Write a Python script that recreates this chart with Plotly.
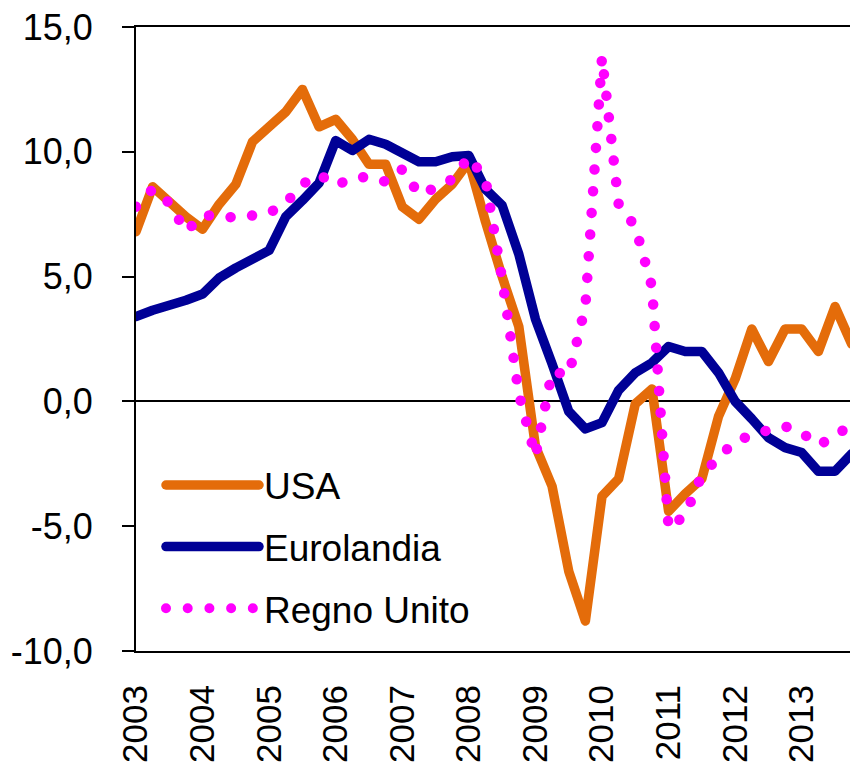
import plotly.graph_objects as go

# --- data ---
years = ["2003", "2004", "2005", "2006", "2007", "2008",
         "2009", "2010", "2011", "2012", "2013"]
quarters = [f"{y}-T{q}" for y in years for q in (1, 2, 3, 4)]

usa = [6.8, 8.6, 8.0, 7.4, 6.9, 7.9, 8.7, 10.4, 11.0, 11.6, 12.5, 11.0,
       11.3, 10.5, 9.5, 9.5, 7.8, 7.3, 8.1, 8.7, 9.6, 7.2, 5.0, 3.0,
       -1.8, -3.4, -6.8, -8.8, -3.8, -3.1, -0.1, 0.5, -4.4, -3.7, -3.1, -0.6,
       0.9, 2.9, 1.6, 2.9, 2.9, 2.0, 3.8, 2.3]

eurolandia = [3.4, 3.65, 3.85, 4.05, 4.3, 4.95, 5.35, 5.7, 6.05, 7.4, 8.05, 8.75,
              10.45, 10.05, 10.5, 10.3, 9.95, 9.6, 9.6, 9.8, 9.85, 8.5, 7.85, 5.9,
              3.3, 1.5, -0.4, -1.1, -0.85, 0.45, 1.15, 1.55, 2.2, 2.0, 2.0, 1.15,
              0.0, -0.7, -1.45, -1.85, -2.05, -2.8, -2.8, -2.1]

regno_unito = [7.8, 8.5, 7.95, 6.8, 7.45, 7.45, 7.35, 7.45, 7.55, 7.95, 8.7, 9.1,
               8.65, 8.95, 9.0, 8.8, 9.3, 8.3, 8.55, 8.9, 9.8, 8.9, 4.9, 0.3,
               -2.2, 1.2, 1.05, 3.8, 13.8, 7.9, 7.0, 4.6, -5.1, -4.55, -2.95, -2.25,
               -1.6, -1.35, -1.15, -1.0, -1.25, -1.75, -1.4, -0.9]

y_ticks = [-10, -5, 0, 5, 10, 15]
y_tick_labels = ["-10,0", "-5,0", "0,0", "5,0", "10,0", "15,0"]

fig = go.Figure()
fig.add_trace(go.Scatter(x=quarters, y=usa, name="USA", mode="lines",
                         legendgroup="g1",
                         line=dict(color="#E46C0A", width=9.5, simplify=False)))
fig.add_trace(go.Scatter(x=quarters, y=eurolandia, name="Eurolandia", mode="lines",
                         legendgroup="g2",
                         line=dict(color="#000096", width=9.5, simplify=False)))
fig.add_trace(go.Scatter(x=quarters, y=regno_unito, name="Regno Unito", mode="lines",
                         legendgroup="g3",
                         line=dict(color="#FF00FF", width=10.5, dash="10px,11.7px",
                                   simplify=False)))

fig.update_layout(
    width=850, height=765,
    margin=dict(l=136, r=0, t=27, b=114),
    paper_bgcolor="white", plot_bgcolor="white",
    font=dict(family="Arial, 'Liberation Sans', sans-serif", size=36, color="black"),
    showlegend=True,
    legend=dict(x=0.035, y=0.315, xanchor="left", yanchor="top",
                font=dict(size=37), itemwidth=93, tracegroupgap=10.5,
                bgcolor="rgba(0,0,0,0)", borderwidth=0),
    xaxis=dict(type="category", range=[0, 42.9], automargin=False,
               tickvals=quarters[::4], ticktext=years, tickangle=-90,
               tickfont=dict(size=35),
               showline=True, linecolor="black", linewidth=2, mirror=True,
               ticks="", showgrid=False, zeroline=False, ticklabelstandoff=18),
    yaxis=dict(range=[-10, 15], automargin=False,
               tickvals=y_ticks, ticktext=y_tick_labels,
               showline=True, linecolor="black", linewidth=2,
               ticks="outside", ticklen=12, tickwidth=2, tickcolor="black",
               showgrid=False, zeroline=True, zerolinecolor="black",
               zerolinewidth=2, ticklabelstandoff=22),
)

post = """
document.body.style.margin = '0';
document.body.style.padding = '0';
var gd = document.getElementById('{plot_id}');
gd.querySelectorAll('path.js-line, .legendlines path').forEach(function(p){
  p.style.strokeLinejoin = 'round';
  p.style.strokeLinecap = 'round';
  var s = p.style.stroke || '';
  if (s.indexOf('255, 0, 255') >= 0) { p.style.strokeDasharray = '0.01px,21.7px'; }
});
"""

fig.write_html("out.html", post_script=post, config={"displayModeBar": False})
